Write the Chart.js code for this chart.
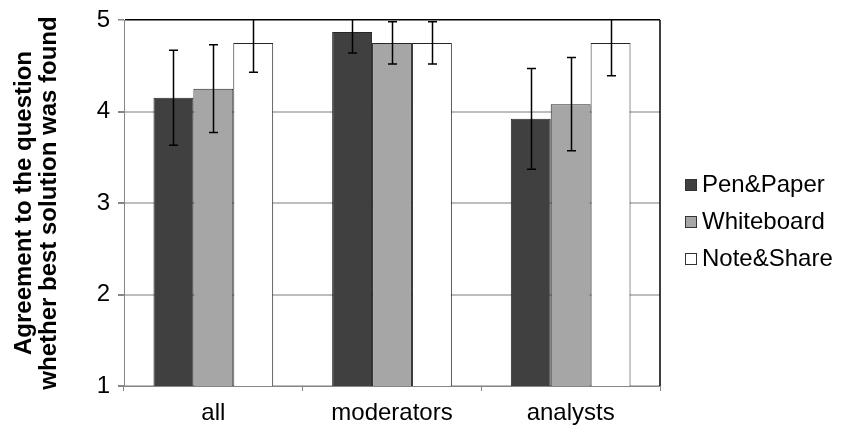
<!DOCTYPE html>
<html>
<head>
<meta charset="utf-8">
<script src="https://cdn.jsdelivr.net/npm/chart.js@4"></script>
<style>
  html, body { margin: 0; padding: 0; background: #fff; }
  #wrap { width: 844px; height: 430px; position: relative; }
</style>
</head>
<body>
<div id="wrap"><canvas id="chart"></canvas></div>
<script>
const groups = ['all', 'moderators', 'analysts'];
const seriesNames = ['Pen&Paper', 'Whiteboard', 'Note&Share'];
const penPaper = [4.15, 4.87, 3.92];
const penPaperErr = [0.52, 0.23, 0.55];
const whiteboard = [4.25, 4.75, 4.08];
const whiteboardErr = [0.48, 0.23, 0.51];
const noteShare = [4.75, 4.75, 4.75];
const noteShareErr = [0.32, 0.23, 0.36];
const yTicks = [1, 2, 3, 4, 5];

const FONT = "'Liberation Sans', Arial, sans-serif";
const fills = ['#404040', '#a6a6a6', '#ffffff'];

// error bars drawn on top of each bar, clipped to the plot area
const errorBars = {
    id: 'errorBars',
    afterDatasetsDraw(chart) {
        const { ctx, chartArea, scales } = chart;
        ctx.save();
        ctx.beginPath();
        ctx.rect(chartArea.left, chartArea.top - 1, chartArea.width, chartArea.height + 1);
        ctx.clip();
        ctx.strokeStyle = '#000';
        ctx.lineWidth = 1.5;
        chart.data.datasets.forEach((ds, i) => {
            chart.getDatasetMeta(i).data.forEach((bar, j) => {
                const v = ds.data[j], e = ds.errors[j];
                const yHi = scales.y.getPixelForValue(v + e);
                const yLo = scales.y.getPixelForValue(v - e);
                const x = Math.round(bar.x) + 0.5;
                ctx.beginPath();
                ctx.moveTo(x, yHi); ctx.lineTo(x, yLo);
                ctx.moveTo(x - 4.5, yHi); ctx.lineTo(x + 4.5, yHi);
                ctx.moveTo(x - 4.5, yLo); ctx.lineTo(x + 4.5, yLo);
                ctx.stroke();
            });
        });
        ctx.restore();
    }
};

// right frame line and legend on the right
const frameAndLegend = {
    id: 'frameAndLegend',
    afterDraw(chart) {
        const { ctx, chartArea } = chart;
        ctx.save();
        ctx.strokeStyle = '#000';
        ctx.lineWidth = 1.5;
        ctx.beginPath();
        ctx.moveTo(chartArea.right, chartArea.top);
        ctx.lineTo(chartArea.right, chartArea.bottom);
        ctx.stroke();

        ctx.font = '24px ' + FONT;
        ctx.textBaseline = 'alphabetic';
        ctx.textAlign = 'left';
        chart.data.datasets.forEach((ds, i) => {
            const base = 192 + i * 37;
            ctx.fillStyle = ds.backgroundColor;
            ctx.fillRect(685.5, base - 12.5, 11, 11);
            ctx.strokeStyle = '#333';
            ctx.lineWidth = 1;
            ctx.strokeRect(685.5, base - 12.5, 11, 11);
            ctx.fillStyle = '#000';
            ctx.fillText(ds.label, 702, base);
        });
        ctx.restore();
    }
};

const makeSet = (i, data, errors) => ({
    label: seriesNames[i],
    data,
    errors,
    backgroundColor: fills[i],
    borderColor: '#262626',
    borderWidth: 1,
    categoryPercentage: 0.67,
    barPercentage: 1.0
});

new Chart(document.getElementById('chart'), {
    type: 'bar',
    data: {
        labels: groups,
        datasets: [
            makeSet(0, penPaper, penPaperErr),
            makeSet(1, whiteboard, whiteboardErr),
            makeSet(2, noteShare, noteShareErr)
        ]
    },
    options: {
        responsive: true,
        maintainAspectRatio: false,
        animation: false,
        layout: { padding: { top: 20, right: 184, left: 0, bottom: 0 } },
        plugins: {
            legend: { display: false },
            tooltip: { enabled: false }
        },
        scales: {
            x: {
                grid: {
                    offset: true,
                    drawOnChartArea: false,
                    drawTicks: true,
                    tickLength: 5,
                    tickColor: '#868686'
                },
                border: { color: '#868686', width: 1 },
                ticks: { color: '#000', font: { family: FONT, size: 24 }, padding: 8 },
                afterFit(s) { s.height = 44; s.paddingLeft = 0; s.paddingRight = 0; }
            },
            y: {
                min: 1,
                max: 5,
                afterBuildTicks(s) { s.ticks = yTicks.map(v => ({ value: v })); },
                grid: {
                    color: c => c.tick && c.tick.value === 5 ? '#000' : '#bdbdbd',
                    lineWidth: c => c.tick && c.tick.value === 5 ? 1.5 : 2,
                    tickColor: '#868686',
                    tickLength: 6
                },
                border: { color: '#868686', width: 1 },
                ticks: { color: '#000', font: { family: FONT, size: 24 }, padding: 8 },
                title: {
                    display: true,
                    text: ['Agreement to the question', 'whether best solution was found'],
                    color: '#000',
                    font: { family: FONT, size: 24, weight: 'bold', lineHeight: 1.05 },
                    padding: { top: 12 }
                },
                afterFit(s) { s.width = 124; s.paddingTop = 0; s.paddingBottom = 0; }
            }
        }
    },
    plugins: [errorBars, frameAndLegend]
});
</script>
</body>
</html>
